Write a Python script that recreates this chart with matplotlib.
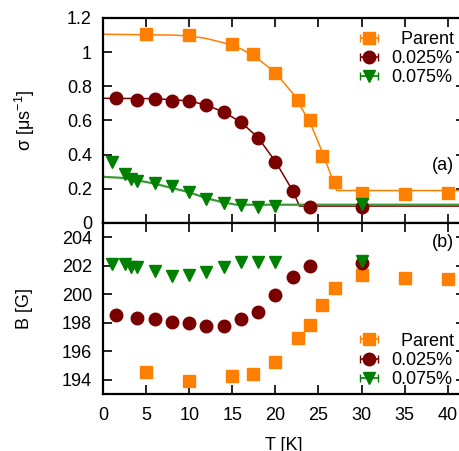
import numpy as np
import matplotlib
matplotlib.use('Agg')
import matplotlib.pyplot as plt
from matplotlib.ticker import FuncFormatter, MultipleLocator

plt.rcParams['font.family'] = ['Liberation Sans', 'DejaVu Sans']
plt.rcParams['mathtext.default'] = 'regular'
plt.rcParams['font.size'] = 13

# sigma(T), top panel
T_par = [5, 10, 15, 17.4, 20, 22.6, 24, 25.4, 26.9, 30, 35, 40]
s_par = [1.105, 1.10, 1.048, 0.99, 0.88, 0.72, 0.60, 0.39, 0.24, 0.175, 0.17, 0.175]
T_025 = [1.5, 4, 6, 8, 10, 12, 14, 16, 18, 20, 22, 24, 30]
s_025 = [0.732, 0.722, 0.728, 0.712, 0.712, 0.689, 0.652, 0.59, 0.499, 0.357, 0.188, 0.093, 0.095]
T_075 = [1, 2.5, 3.25, 4, 6, 8, 10, 12, 14, 16, 18, 20, 30]
s_075 = [0.357, 0.285, 0.26, 0.246, 0.235, 0.217, 0.182, 0.14, 0.115, 0.105, 0.093, 0.099, 0.11]

# fit curves
fT_par = [0, 8, 10, 12, 14, 16, 18, 20, 22, 24, 25, 26, 27.1, 42]
fs_par = [1.105, 1.10, 1.095, 1.08, 1.055, 1.02, 0.96, 0.88, 0.76, 0.59, 0.47, 0.34, 0.19, 0.19]
fT_025 = [0, 6, 10, 12, 14, 16, 18, 20, 22, 22.8, 42]
fs_025 = [0.73, 0.728, 0.715, 0.69, 0.65, 0.59, 0.50, 0.36, 0.19, 0.099, 0.099]
fT_075 = [0, 2, 4, 6, 8, 10, 12, 14, 15.5, 42]
fs_075 = [0.27, 0.265, 0.25, 0.23, 0.205, 0.18, 0.145, 0.12, 0.107, 0.107]

# B(T), bottom panel
B_par = [194.54, 193.9, 194.23, 194.37, 195.24, 196.92, 197.85, 199.25, 200.45, 201.36, 201.13, 201.08]
B_025 = [198.55, 198.32, 198.23, 198.04, 197.97, 197.8, 197.8, 198.23, 198.74, 199.98, 201.24, 202.01, 202.18]
B_075 = [202.13, 202.13, 201.94, 201.9, 201.66, 201.31, 201.38, 201.55, 201.9, 202.25, 202.25, 202.25, 202.36]

labels = ['  Parent', '0.025%', '0.075%']
c_par, c_025, c_075 = '#ff8000', '#7a0000', '#008000'

fig = plt.figure(figsize=(4.59, 4.51), dpi=100)
W, H = 459, 451
x0, x1 = 103 / W, 465 / W
ax1 = fig.add_axes([x0, 1 - 223 / H, x1 - x0, (223 - 18) / H])
ax2 = fig.add_axes([x0, 1 - 394 / H, x1 - x0, (394 - 223) / H])

ax1.plot(fT_par, fs_par, color=c_par, lw=1.1)
ax1.plot(fT_025, fs_025, color=c_025, lw=1.1)
ax1.plot(fT_075, fs_075, color='#3a9a3a', lw=1.6)

series = [(T_par, s_par, B_par, 's', c_par, 8.5),
          (T_025, s_025, B_025, 'o', c_025, 9),
          (T_075, s_075, B_075, 'v', c_075, 8.5)]
for (T, s, B, m, c, ms), lab in zip(series, labels):
    ax1.errorbar(T, s, xerr=np.zeros(len(T)), fmt=m, color=c, ms=ms, capsize=3,
                 elinewidth=1.2, label=lab)
    ax2.errorbar(T, B, xerr=np.zeros(len(T)), fmt=m, color=c, ms=ms, capsize=3,
                 elinewidth=1.2, label=lab)

for ax in (ax1, ax2):
    ax.set_xlim(0, 42)
    ax.xaxis.set_major_locator(MultipleLocator(5))
    ax.tick_params(direction='in', top=True, right=True, length=6.5, width=1.2,
                   labelsize=13)
    ax.tick_params(axis='y', pad=8)
    for sp in ax.spines.values():
        sp.set_linewidth(1.6)
    ax.yaxis.set_major_formatter(FuncFormatter(lambda v, p: '%g' % v))

ax1.set_ylim(0, 1.2)
ax1.yaxis.set_major_locator(MultipleLocator(0.2))
ax1.tick_params(labelbottom=False)
ax2.set_ylim(193, 205)
ax2.yaxis.set_major_locator(MultipleLocator(2))
ax2.tick_params(axis='x', pad=9.5)

ax1.set_ylabel('σ [μs$^{-1}$]')
ax1.yaxis.set_label_coords(-0.182, 0.5)
ax2.set_ylabel('B [G]')
ax2.yaxis.set_label_coords(-0.193, 0.5)
ax2.set_xlabel('T [K]', labelpad=9)

ax1.text(454 / W, 1 - 166 / H, '(a)', transform=fig.transFigure, ha='right', va='center')
ax2.text(454 / W, 1 - 242 / H, '(b)', transform=fig.transFigure, ha='right', va='center')

legkw = dict(frameon=False, handlelength=1.0, handletextpad=0.7, labelspacing=0.12,
             borderpad=0, borderaxespad=0, fontsize=13)
ax1.legend(loc='upper right', bbox_to_anchor=(454 / W, 1 - 31 / H),
           bbox_transform=fig.transFigure, **legkw)
ax2.legend(loc='lower right', bbox_to_anchor=(454 / W, 1 - 388 / H),
           bbox_transform=fig.transFigure, **legkw)

fig.savefig('out.png', dpi=100)
